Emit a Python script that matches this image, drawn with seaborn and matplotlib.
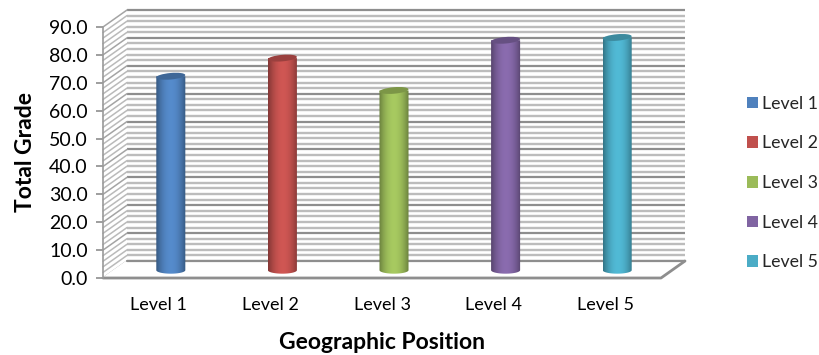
import numpy as np
import matplotlib
matplotlib.use("Agg")
import matplotlib.pyplot as plt
from matplotlib.patches import Ellipse, PathPatch
from matplotlib.path import Path
from matplotlib.transforms import Affine2D, ScaledTranslation
import matplotlib.colors as mc
import pandas as pd
import seaborn as sns

categories = ["Level 1", "Level 2", "Level 3", "Level 4", "Level 5"]
grades = [69.3, 75.8, 64.2, 82.2, 83.2]
colours = ["#4F81BD", "#C0504D", "#9BBB59", "#8064A2", "#4BACC6"]
y_ticks = np.arange(0, 91, 10)
y_minor = np.arange(0, 91, 2)

W, H = 819, 355
sns.set_theme(style="white")
plt.rcParams["font.family"] = ["Lato", "DejaVu Sans"]

fig = plt.figure(figsize=(W / 100, H / 100), dpi=100)
ax = fig.add_axes([103 / W, 1 - 278 / H, 558 / W, 251 / H])
ax.set_facecolor("none")

frame = pd.DataFrame({"position": categories, "grade": grades})
sns.barplot(data=frame, x="position", y="grade", hue="position", palette=colours,
            hue_order=categories, width=0.26, saturation=1, ax=ax, legend=True,
            linewidth=0, zorder=5)

ax.set_xlim(-0.5, 4.5)
ax.set_ylim(0, 90)

# Depth of the 3D box, as a shift in data units of the front plane
depth_x = 24 / 558 * 5
depth_y = 17 / 251 * 90
x0, x1 = -0.5, 4.5

# Back and side walls
for v in y_minor:
    major = v in y_ticks
    c, lw = ("#8e8e8e", 1.6) if major else ("#bcbcbc", 1.7)
    z = 2 if major else 1
    ax.plot([x0 + depth_x, x1 + depth_x], [v + depth_y] * 2, color=c, lw=lw,
            clip_on=False, zorder=z, solid_capstyle="butt")
    ax.plot([x0, x0 + depth_x], [v, v + depth_y], color="#a4a4a4" if major else "#bababa",
            lw=1.1, clip_on=False, zorder=z)

# Floor: white plate with a grey outer edge
ax.fill([x0, x1, x1 + depth_x, x0 + depth_x], [0, 0, depth_y, depth_y], color="white",
        clip_on=False, zorder=3)
ax.plot([x0 + depth_x, x1 + depth_x], [depth_y, depth_y], color="#8e8e8e", lw=1.6, clip_on=False, zorder=3)
ax.plot([x0, x1, x1 + depth_x], [0, 0, depth_y], color="#8e8e8e", lw=2, clip_on=False, zorder=4)
ax.plot([x0, x0], [0, 90], color="#9a9a9a", lw=1.2, clip_on=False, zorder=4)

# Cylinders: each bar sits halfway into the box, shaded across its width
bar_tf = ax.transData + Affine2D().translate(12, 8.5)
shade = np.abs(np.linspace(-1, 1, 64)) ** 2.0
bar_px = 0.26 * 558 / 5
for bar, colour in zip(ax.patches, colours):
    bar.set_visible(False)
    x, w, h = bar.get_x(), bar.get_width(), bar.get_height()
    xc = x + w / 2
    base = np.array(mc.to_rgb(colour))
    light = np.clip(base * 1.08, 0, 1)
    dark = base * 0.68
    rgb = np.array([light * (1 - s) + dark * s for s in shade])[None, :, :]

    # Silhouette: straight sides, rounded foot; the gradient fills it
    t = np.linspace(np.pi, 2 * np.pi, 24)
    foot_x = xc + w / 2 * np.cos(t)
    foot_y = 1.25 * np.sin(t) - 0.25
    verts = np.column_stack([np.r_[x, foot_x, x + w, x],
                             np.r_[h, foot_y, h, h]])
    body = PathPatch(Path(verts), transform=bar_tf, facecolor="none", lw=0)
    ax.add_patch(body)
    im = ax.imshow(rgb, extent=[x, x + w, -2, h], transform=bar_tf, aspect="auto",
                   zorder=6, clip_on=True)
    im.set_clip_path(body)

    # Tilted cap in pixel units, anchored on the bar's value
    cap_tf = ScaledTranslation(xc, h, bar_tf)
    ax.add_patch(Ellipse((0, 0), bar_px, 6.5, angle=5, transform=cap_tf,
                         facecolor=tuple(base * 0.8), clip_on=False, zorder=7, lw=0))
ax.set_xlim(-0.5, 4.5)
ax.set_ylim(0, 90)

sns.despine(ax=ax, left=True, bottom=True, right=True, top=True)
ax.set_yticks(y_ticks, [f"{v:.1f}" for v in y_ticks])
ax.tick_params(axis="y", left=True, length=5, width=1.2, color="#8e8e8e", pad=6, labelsize=14, labelcolor="black")
ax.tick_params(axis="x", bottom=False, pad=8, labelsize=13, labelcolor="black")
ax.set_xlabel("Geographic Position", fontsize=16.5, fontweight="bold", color="black", labelpad=13.5)
ax.set_ylabel("Total Grade", fontsize=16.5, fontweight="bold", color="black", labelpad=9)

sns.move_legend(ax, loc="center left", bbox_to_anchor=(747 / W, 1 - 183 / H),
                bbox_transform=fig.transFigure, frameon=False, title=None,
                fontsize=12.8, labelspacing=1.33, handlelength=0.62, handleheight=0.62,
                handletextpad=0.2, borderaxespad=0, borderpad=0)

fig.savefig("out.png", dpi=100)
